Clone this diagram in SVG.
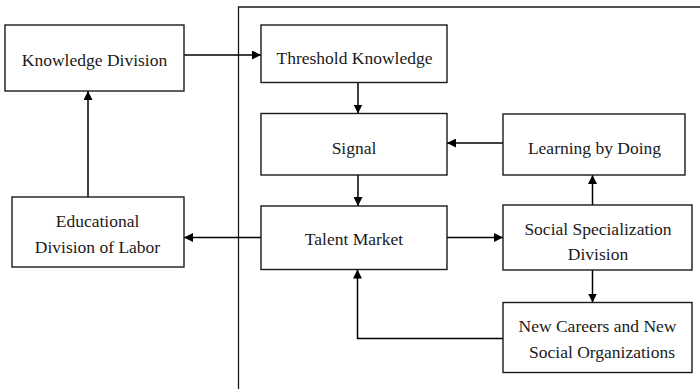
<svg xmlns="http://www.w3.org/2000/svg" width="700" height="389" viewBox="0 0 700 389">
  <style>
    .box { fill: #ffffff; stroke: #1a1a1a; stroke-width: 1.4; }
    .frame { fill: none; stroke: #1a1a1a; stroke-width: 1.3; }
    .edge { fill: none; stroke: #000000; stroke-width: 1.5; }
    .lbl { font-family: "Liberation Serif", "Times New Roman", serif; font-size: 17.5px; fill: #1a1a1a; text-anchor: middle; }
  </style>
  <defs>
    <marker id="arrow" viewBox="0 0 10 10" refX="10" refY="5" markerWidth="9" markerHeight="9" markerUnits="userSpaceOnUse" orient="auto">
      <path d="M0,0 L10,5 L0,10 Z" fill="#000000"/>
    </marker>
  </defs>

  <rect width="700" height="389" fill="#ffffff"/>

  <!-- frame enclosing the right-hand process -->
  <path class="frame" d="M238.5,389 L238.5,7 L700,7"/>

  <g id="connectors">
    <path class="edge" d="M184,55 L261,55" marker-end="url(#arrow)"/>
    <path class="edge" d="M88,197 L88,91" marker-end="url(#arrow)"/>
    <path class="edge" d="M358,82.5 L358,113.5" marker-end="url(#arrow)"/>
    <path class="edge" d="M503,143 L447,143" marker-end="url(#arrow)"/>
    <path class="edge" d="M358,175 L358,206" marker-end="url(#arrow)"/>
    <path class="edge" d="M261,237.5 L184,237.5" marker-end="url(#arrow)"/>
    <path class="edge" d="M447,237.5 L503,237.5" marker-end="url(#arrow)"/>
    <path class="edge" d="M592.5,205 L592.5,175" marker-end="url(#arrow)"/>
    <path class="edge" d="M592.5,270 L592.5,302.5" marker-end="url(#arrow)"/>
    <path class="edge" d="M503,338.5 L357.5,338.5 L357.5,269.5" marker-end="url(#arrow)"/>
  </g>

  <g id="knowledge-division">
    <rect class="box" x="5" y="25" width="179" height="66"/>
    <text class="lbl" x="94.5" y="65.5">Knowledge Division</text>
  </g>

  <g id="educational-division">
    <rect class="box" x="12" y="197" width="172" height="70"/>
    <text class="lbl" x="97.5" y="227">Educational</text>
    <text class="lbl" x="97.5" y="253">Division of Labor</text>
  </g>

  <g id="threshold-knowledge">
    <rect class="box" x="261" y="25" width="186" height="57.5"/>
    <text class="lbl" x="354.5" y="64">Threshold Knowledge</text>
  </g>

  <g id="signal">
    <rect class="box" x="261" y="113.5" width="186" height="61.5"/>
    <text class="lbl" x="354" y="154">Signal</text>
  </g>

  <g id="learning-by-doing">
    <rect class="box" x="503" y="114" width="182" height="61"/>
    <text class="lbl" x="594.5" y="154">Learning by Doing</text>
  </g>

  <g id="talent-market">
    <rect class="box" x="261" y="206" width="186" height="63.5"/>
    <text class="lbl" x="354" y="245">Talent Market</text>
  </g>

  <g id="social-specialization">
    <rect class="box" x="503" y="205" width="189" height="65"/>
    <text class="lbl" x="598" y="234.5">Social Specialization</text>
    <text class="lbl" x="598" y="259.5">Division</text>
  </g>

  <g id="new-careers">
    <rect class="box" x="503" y="302.5" width="189" height="70"/>
    <text class="lbl" x="597.5" y="332">New Careers and New</text>
    <text class="lbl" x="602" y="357.5">Social Organizations</text>
  </g>
</svg>
